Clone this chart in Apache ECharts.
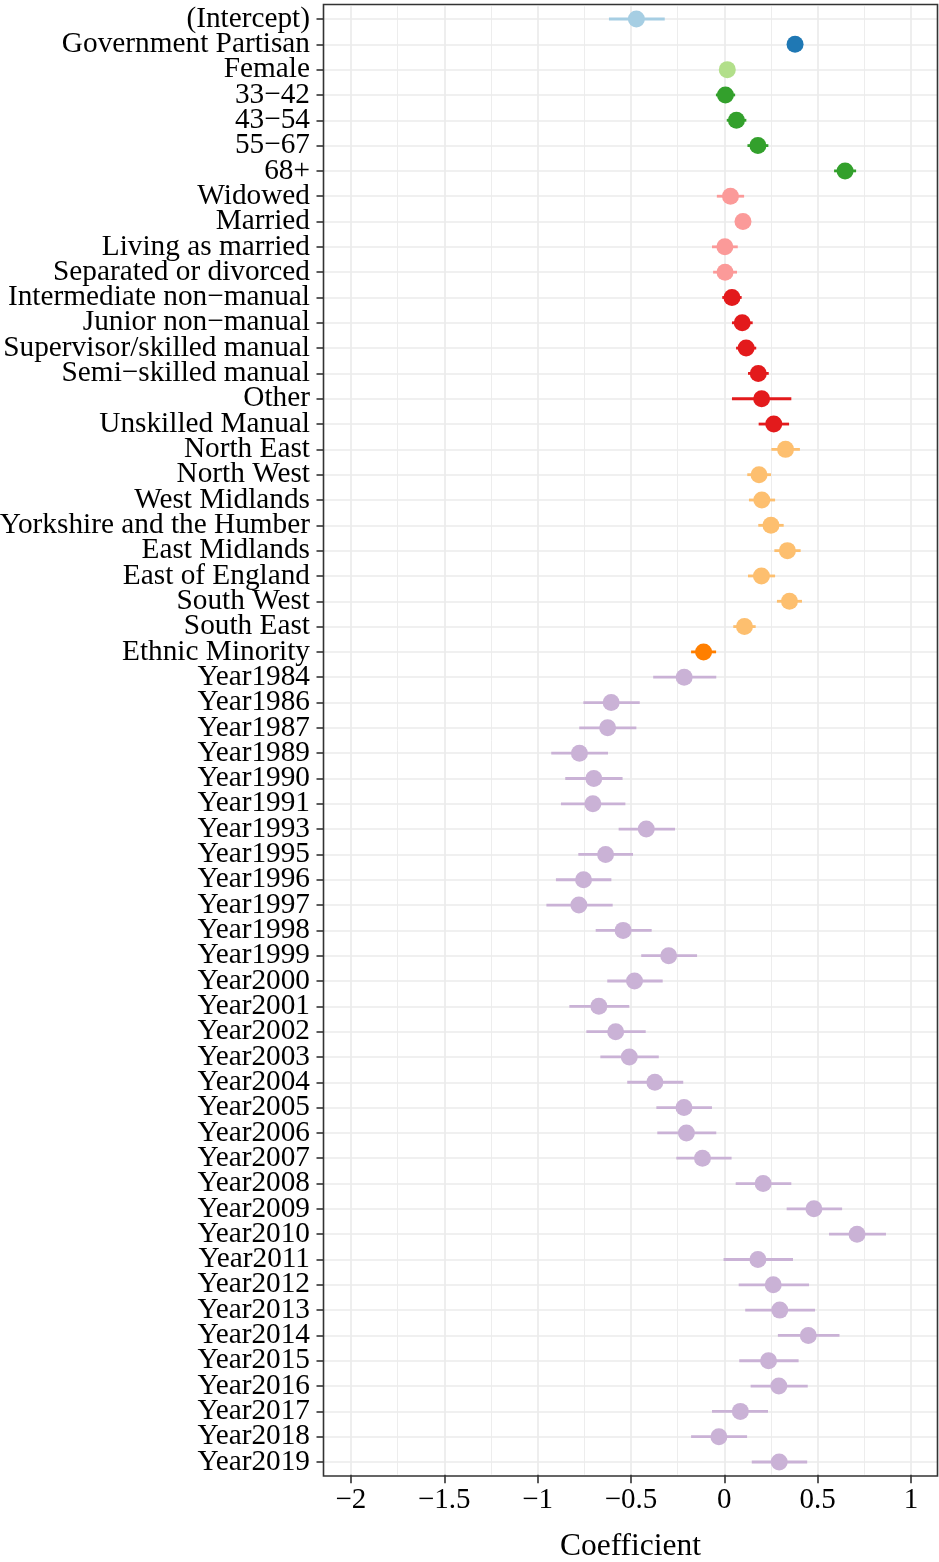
<!DOCTYPE html>
<html><head><meta charset="utf-8">
<script src="https://cdn.jsdelivr.net/npm/echarts@6/dist/echarts.min.js"></script>
<style>html,body{margin:0;padding:0;background:#fff}#c{width:939px;height:1562px}</style>
</head><body><div id="c"></div>
<script>
const terms = ["(Intercept)","Government Partisan","Female","33\u221242","43\u221254","55\u221267","68+",
 "Widowed","Married","Living as married","Separated or divorced",
 "Intermediate non\u2212manual","Junior non\u2212manual","Supervisor/skilled manual","Semi\u2212skilled manual","Other","Unskilled Manual",
 "North East","North West","West Midlands","Yorkshire and the Humber","East Midlands","East of England","South West","South East",
 "Ethnic Minority",
 "Year1984","Year1986","Year1987","Year1989","Year1990","Year1991","Year1993","Year1995","Year1996","Year1997","Year1998","Year1999",
 "Year2000","Year2001","Year2002","Year2003","Year2004","Year2005","Year2006","Year2007","Year2008","Year2009","Year2010",
 "Year2011","Year2012","Year2013","Year2014","Year2015","Year2016","Year2017","Year2018","Year2019"];
const estimates = [-0.471,0.379,0.016,0.006,0.065,0.180,0.647,
 0.033,0.100,0.003,0.004,
 0.041,0.096,0.117,0.182,0.200,0.265,
 0.328,0.186,0.201,0.250,0.338,0.199,0.349,0.108,
 -0.111,
 -0.215,-0.606,-0.625,-0.776,-0.699,-0.704,-0.418,-0.636,-0.754,-0.779,-0.542,-0.298,
 -0.481,-0.672,-0.582,-0.509,-0.372,-0.216,-0.203,-0.117,0.208,0.480,0.711,
 0.180,0.262,0.297,0.450,0.237,0.292,0.086,-0.029,0.294];
const lower = [-0.618,0.360,0.000,-0.045,0.013,0.124,0.588,
 -0.040,0.068,-0.066,-0.060,
 -0.011,0.041,0.063,0.127,0.041,0.184,
 0.252,0.123,0.132,0.182,0.268,0.127,0.282,0.048,
 -0.178,
 -0.381,-0.755,-0.777,-0.927,-0.852,-0.875,-0.566,-0.782,-0.902,-0.953,-0.689,-0.445,
 -0.627,-0.830,-0.739,-0.664,-0.520,-0.364,-0.359,-0.257,0.061,0.334,0.561,
 -0.004,0.077,0.112,0.287,0.080,0.141,-0.066,-0.178,0.147];
const upper = [-0.319,0.398,0.032,0.058,0.118,0.236,0.706,
 0.106,0.132,0.072,0.068,
 0.093,0.152,0.171,0.238,0.359,0.347,
 0.405,0.250,0.272,0.318,0.409,0.272,0.416,0.168,
 -0.044,
 -0.043,-0.453,-0.471,-0.623,-0.545,-0.530,-0.264,-0.489,-0.605,-0.598,-0.389,-0.146,
 -0.330,-0.509,-0.421,-0.351,-0.220,-0.066,-0.043,0.039,0.359,0.631,0.866,
 0.368,0.454,0.486,0.617,0.398,0.447,0.234,0.122,0.444];
const groups = ["intercept","gov","sex","age","age","age","age",
 "marital","marital","marital","marital",
 "class","class","class","class","class","class",
 "region","region","region","region","region","region","region","region",
 "ethnic"].concat(Array(32).fill("year"));
const groupColors = {intercept:"#a6cee3",gov:"#1f78b4",sex:"#b2df8a",age:"#33a02c",marital:"#fb9a99",
 class:"#e31a1c",region:"#fdbf6f",ethnic:"#ff7f00",year:"#cab2d6"};
const xTicks = [-2,-1.5,-1,-0.5,0,0.5,1];
const xMinor = [-1.75,-1.25,-0.75,-0.25,0.25,0.75];

const FONT = "'Liberation Serif','Times New Roman',serif";
const chart = echarts.init(document.getElementById('c'), null, {renderer:'canvas'});

const gridLines = [];
xMinor.forEach(v => gridLines.push({xAxis: v, lineStyle:{color:'#ebebeb', width:0.9, type:'solid'}}));
xTicks.forEach(v => gridLines.push({xAxis: v, lineStyle:{color:'#ebebeb', width:1.7, type:'solid'}}));
terms.forEach(t => gridLines.push({yAxis: t, lineStyle:{color:'#ebebeb', width:1.7, type:'solid'}}));

const W = 939, H = 1562;
const G = {left:323.5, right:1.5, top:6.34, bottom:H-1474.67};
const FRAME = {x:323.5, y:4.5, w:614, h:1471.5};

chart.setOption({
  animation:false,
  backgroundColor:'#fff',
  grid:{left:G.left, right:G.right, top:G.top, bottom:G.bottom, show:false, containLabel:false, outerBoundsMode:'none'},
  graphic:[{type:'rect', z:100, silent:true,
    shape:{x:FRAME.x, y:FRAME.y, width:FRAME.w, height:FRAME.h},
    style:{fill:null, stroke:'#333', lineWidth:1.6}}],
  xAxis:{type:'value', min:-2.147, max:1.142,
    splitLine:{show:false}, minorSplitLine:{show:false},
    axisLine:{show:false, onZero:false},
    axisTick:{show:true, customValues:xTicks, length:8.5, lineStyle:{color:'#333', width:1.6}},
    axisLabel:{customValues:xTicks, margin:11, color:'#000', fontFamily:FONT, fontSize:29,
      formatter: v => String(v).replace('-', '\u2212')},
    name:'Coefficient', nameLocation:'middle', nameGap:56,
    nameTextStyle:{color:'#000', fontFamily:FONT, fontSize:31.5}
  },
  yAxis:{type:'category', data:terms, inverse:true, boundaryGap:true,
    splitLine:{show:false},
    axisLine:{show:false, onZero:false},
    axisTick:{show:true, alignWithLabel:true, length:7, lineStyle:{color:'#333', width:1.6}},
    axisLabel:{interval:0, margin:13.5, color:'#000', fontFamily:FONT, fontSize:29.3}
  },
  series:[
    {type:'line', data:[], silent:true, z:0,
     markLine:{z:0, silent:true, symbol:'none', label:{show:false}, animation:false, emphasis:{disabled:true}, data:gridLines}},
    {type:'custom', z:10, silent:true,
     encode:{x:[1,2], y:0},
     data: terms.map((t,i)=>[i, lower[i], upper[i]]),
     renderItem:(params, api)=>{
       const i = api.value(0);
       const p1 = api.coord([api.value(1), i]);
       const p2 = api.coord([api.value(2), i]);
       const lw = 2.8;
       return {type:'rect', shape:{x:p1[0], y:p1[1]-lw/2, width:p2[0]-p1[0], height:lw},
         style:{fill:groupColors[groups[params.dataIndex]], stroke:null}};
     }},
    {type:'scatter', z:11, silent:true, symbol:'circle', symbolSize:17,
     data: terms.map((t,i)=>({value:[estimates[i], t], itemStyle:{color:groupColors[groups[i]], opacity:1, borderWidth:0}}))}
  ]
});
</script></body></html>
